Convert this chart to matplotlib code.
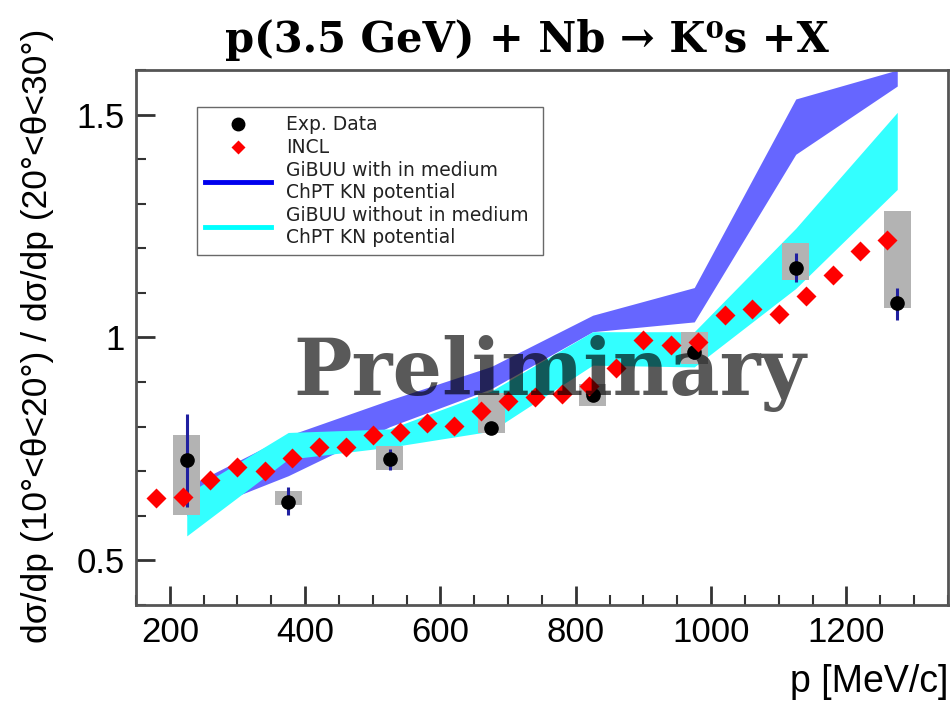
import numpy as np
import matplotlib
matplotlib.use('Agg')
import matplotlib.pyplot as plt
from matplotlib.lines import Line2D
from matplotlib.patches import Rectangle

# experimental points (HADES style ratio)
p_exp = [225, 375, 525, 675, 825, 975, 1125, 1275]
r_exp = [0.725, 0.632, 0.727, 0.798, 0.870, 0.967, 1.157, 1.077]
stat_lo = [0.619, 0.601, 0.703, 0.785, 0.858, 0.952, 1.125, 1.039]
stat_hi = [0.829, 0.664, 0.750, 0.810, 0.884, 0.980, 1.189, 1.110]
sys_lo = [0.602, 0.624, 0.703, 0.785, 0.847, 0.940, 1.129, 1.067]
sys_hi = [0.781, 0.656, 0.756, 0.876, 0.896, 1.013, 1.212, 1.284]

# INCL
p_incl = [180, 220, 260, 300, 340, 380, 420, 460, 500, 540, 580, 620, 660, 700,
          740, 780, 820, 860, 900, 940, 980, 1020, 1060, 1100, 1140, 1180,
          1220, 1260]
r_incl = [0.641, 0.643, 0.680, 0.709, 0.701, 0.730, 0.754, 0.754, 0.781,
          0.788, 0.808, 0.801, 0.836, 0.857, 0.867, 0.874, 0.891, 0.932,
          0.995, 0.983, 0.990, 1.050, 1.065, 1.052, 1.094, 1.140, 1.195, 1.219]

# GiBUU bands
p_gibuu = [225, 375, 525, 675, 825, 975, 1125, 1275]
with_lo = [0.600, 0.690, 0.800, 0.885, 1.013, 1.035, 1.411, 1.564]
with_hi = [0.665, 0.780, 0.860, 0.935, 1.050, 1.112, 1.535, 1.600]
wo_lo = [0.555, 0.727, 0.754, 0.790, 0.938, 0.934, 1.110, 1.332]
wo_hi = [0.649, 0.787, 0.795, 0.880, 1.013, 1.013, 1.245, 1.505]

box_halfwidth = 20

fig = plt.figure(figsize=(9.53, 7.04), dpi=100)
ax = fig.add_axes([136 / 953, 1 - 605 / 704, 812 / 953, 535 / 704])

ax.fill_between(p_gibuu, with_lo, with_hi, color='#6666ff', lw=0, zorder=1)
ax.fill_between(p_gibuu, wo_lo, wo_hi, color='#33ffff', lw=0, zorder=2)

for p, lo, hi in zip(p_exp, sys_lo, sys_hi):
    ax.add_patch(Rectangle((p - box_halfwidth, lo), 2 * box_halfwidth, hi - lo,
                           facecolor='#b3b3b3', edgecolor='none', zorder=3))
ax.vlines(p_exp, stat_lo, stat_hi, color='#2020a0', lw=2.2, zorder=4)
ax.plot(p_exp, r_exp, 'o', color='black', ms=9.5, zorder=5)
ax.plot(p_incl, r_incl, 'D', color='#ff0000', ms=10.5, mec='none', zorder=6)

ax.set_xlim(150, 1350)
ax.set_ylim(0.4, 1.6)
ax.set_xticks([200, 400, 600, 800, 1000, 1200])
ax.set_xticks(np.arange(150, 1351, 50), minor=True)
ax.set_yticks([0.5, 1.0, 1.5])
ax.set_yticks(np.arange(0.4, 1.61, 0.1), minor=True)
ax.set_yticklabels(['0.5', '1', '1.5'])
ax.tick_params(which='both', direction='in', top=False, right=False,
               labelsize=25, colors='#333333', labelcolor='black')
ax.tick_params(which='major', length=14, width=2, pad=8)
ax.tick_params(which='minor', length=7, width=1.5)
for lab in ax.get_xticklabels() + ax.get_yticklabels():
    lab.set_family('Liberation Sans')
for sp in ax.spines.values():
    sp.set_color('#555555')
    sp.set_linewidth(2)

handles = [
    Line2D([], [], ls='none', marker='o', color='black', ms=9),
    Line2D([], [], ls='none', marker='D', color='red', mec='none', ms=7),
    Line2D([], [], color='#0000ee', lw=3.5),
    Line2D([], [], color='#00ffff', lw=3.5),
]
labels = ['Exp. Data', 'INCL', 'GiBUU with in medium\nChPT KN potential',
          'GiBUU without in medium\nChPT KN potential']
leg = ax.legend(handles, labels, loc='upper left',
                bbox_to_anchor=(0.0751, 0.6636, 0.426, 0.2674), mode='expand',
                fontsize=13.5, frameon=True, fancybox=False, handlelength=3.5,
                handletextpad=0.8, labelspacing=0.2, borderpad=0.45,
                borderaxespad=0)
leg.get_frame().set_edgecolor('#444444')
leg.get_frame().set_linewidth(1)
for t in leg.get_texts():
    t.set_color('#222222')

ax.text(0.51, 0.3925, 'Preliminary', transform=ax.transAxes, ha='center',
        va='baseline', fontsize=56, fontweight='bold', family='DejaVu Serif',
        color='black', alpha=0.65, zorder=10)

fig.text(0.553, 1 - 40 / 704, 'p(3.5 GeV) + Nb \u2192 K\u2070s +X',
         ha='center', va='center', fontsize=30, fontweight='bold',
         family='DejaVu Serif')
fig.text(0.039, 1 - 336 / 704,
         'd\u03c3/dp (10\u00b0<\u03b8<20\u00b0) / d\u03c3/dp (20\u00b0<\u03b8<30\u00b0)',
         rotation=90, ha='center', va='center', fontsize=25.5,
         family='Liberation Sans')
fig.text(948 / 953, 1 - 692 / 704, 'p [MeV/c]', ha='right', va='baseline',
         fontsize=27, family='Liberation Sans')

fig.savefig('out.png', dpi=100)
